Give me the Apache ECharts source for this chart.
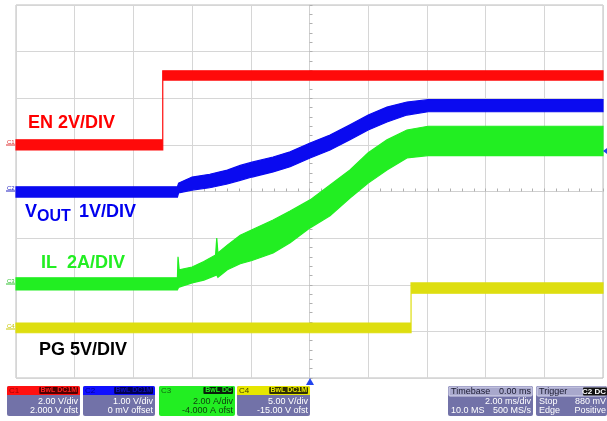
<!DOCTYPE html>
<html>
<head>
<meta charset="utf-8">
<script src="https://cdn.jsdelivr.net/npm/echarts@6/dist/echarts.min.js"></script>
<style>
html,body{margin:0;padding:0;background:#fff;}
#c{width:607px;height:421px;}
</style>
</head>
<body>
<div id="c"></div>
<script>
// ---- data (time in divisions 0..10, level in divisions 0..8) ----
// EN (C1) envelope
const enT  = [0, 2.5, 2.5, 10];
const enLo = [4.89, 4.89, 6.39, 6.39];
const enHi = [5.11, 5.11, 6.59, 6.59];
// VOUT (C2) envelope
const voT  = [0, 2.75, 2.77, 3.0, 3.3, 3.6, 3.82, 4.02, 4.38, 4.67, 5.01, 5.35, 5.69, 6.0, 6.32, 6.66, 7.02, 7.22, 10];
const voLo = [3.88, 3.88, 3.97, 4.03, 4.08, 4.16, 4.24, 4.31, 4.42, 4.53, 4.72, 4.89, 5.11, 5.32, 5.49, 5.64, 5.71, 5.71, 5.71];
const voHi = [4.10, 4.10, 4.18, 4.31, 4.37, 4.46, 4.56, 4.63, 4.74, 4.85, 5.04, 5.21, 5.43, 5.64, 5.81, 5.92, 5.97, 5.97, 5.97];
// IL (C3) envelope
const ilT  = [0, 2.75, 2.76, 2.78, 3.0, 3.2, 3.40, 3.42, 3.44, 3.6, 3.82, 4.02, 4.38, 4.67, 5.01, 5.35, 5.69, 6.0, 6.32, 6.66, 7.02, 10];
const ilLo = [1.89, 1.89, 1.92, 1.95, 2.04, 2.10, 2.20, 2.21, 2.16, 2.32, 2.45, 2.52, 2.68, 2.90, 3.22, 3.48, 3.86, 4.18, 4.46, 4.72, 4.77, 4.77];
const ilHi = [2.15, 2.15, 2.60, 2.32, 2.38, 2.50, 2.64, 3.00, 2.68, 2.85, 3.06, 3.18, 3.39, 3.58, 3.82, 4.14, 4.46, 4.83, 5.11, 5.32, 5.40, 5.40];
// PG (C4) envelope
const pgT  = [0, 6.73, 6.73, 10];
const pgLo = [0.97, 0.97, 1.82, 1.82];
const pgHi = [1.18, 1.18, 2.04, 2.04];

const traceLabels = ['EN 2V/DIV', 'V', 'OUT', ' 1V/DIV', 'IL  2A/DIV', 'PG 5V/DIV'];
const chLines1 = ['2.00 V/div', '1.00 V/div', '2.00 A/div', '5.00 V/div'];
const chLines2 = ['2.000 V ofst', '0 mV offset', '-4.000 A ofst', '-15.00 V ofst'];
const tbLines = ['Timebase', '0.00 ms', '2.00 ms/div', '10.0 MS', '500 MS/s'];
const trLines = ['Trigger', 'C2 DC', 'Stop', '880 mV', 'Edge', 'Positive'];

const FONT = '"Liberation Sans", Arial, sans-serif';
const chart = echarts.init(document.getElementById('c'), null, {renderer: 'canvas'});

function band(name, t, lo, hi, color) {
  return {
    type: 'custom', name: name, xAxisIndex: 0, yAxisIndex: 0, silent: true, z: 5,
    data: t.map((v, i) => [v, hi[i]]),
    renderItem: function (params, api) {
      if (params.dataIndex !== 0) return null;
      const pts = [];
      for (let i = 0; i < t.length; i++) pts.push(api.coord([t[i], hi[i]]));
      for (let i = t.length - 1; i >= 0; i--) pts.push(api.coord([t[i], lo[i]]));
      return {type: 'polygon', shape: {points: pts},
        style: {fill: color, stroke: color, lineWidth: 1.2}};
    }
  };
}

const g = [];
function txt(x, y, s, font, fill, align) {
  g.push({type: 'text', x: x, y: y, z: 20, silent: true,
    style: {text: s, font: font, fill: fill, align: align || 'left', verticalAlign: 'middle'}});
}
function rect(x, y, w, h, fill, r, stroke) {
  g.push({type: 'rect', z: 15, silent: true, shape: {x: x, y: y, width: w, height: h, r: r || 0},
    style: {fill: fill, stroke: stroke || null, lineWidth: 1}});
}

// trace labels
txt(28, 123, traceLabels[0], 'bold 18px ' + FONT, '#ff0000');
txt(25, 212, traceLabels[1], 'bold 18px ' + FONT, '#0000ee');
txt(37, 217, traceLabels[2], 'bold 16px ' + FONT, '#0000ee');
txt(74, 212, traceLabels[3], 'bold 18px ' + FONT, '#0000ee');
txt(41, 263, traceLabels[4], 'bold 18px ' + FONT, '#22ee22');
txt(39, 350, traceLabels[5], 'bold 18px ' + FONT, '#000000');

// channel ground markers
const mk = [['C1', 142, '#e03030'], ['C2', 188, '#2020c0'], ['C3', 281, '#30c030'], ['C4', 326, '#c8c800']];
mk.forEach(m => {
  txt(7, m[1], m[0], '6px ' + FONT, m[2]);
  g.push({type: 'line', z: 20, silent: true, shape: {x1: 6, y1: m[1] + 3, x2: 15, y2: m[1] + 3}, style: {stroke: m[2], lineWidth: 1}});
});

// trigger markers
g.push({type: 'polygon', z: 20, silent: true, shape: {points: [[306, 385], [314, 385], [310, 378]]}, style: {fill: '#2244ee'}});
g.push({type: 'polygon', z: 20, silent: true, shape: {points: [[607, 148], [607, 154], [603, 151]]}, style: {fill: '#2244ee'}});

// channel boxes
const BODY = '#7272a8';
const boxes = [
  {x: 7, w: 73, head: '#ff1010', id: 'C1', idc: '#a00000', tag: 'BwL DC1M', tagBg: '#500000', tagC: '#ff2020', body: BODY, tc: '#ffffff'},
  {x: 83, w: 72, head: '#1010ff', id: 'C2', idc: '#000090', tag: 'BwL DC1M', tagBg: '#000050', tagC: '#1010c0', body: BODY, tc: '#ffffff'},
  {x: 159, w: 76, head: '#22ee22', id: 'C3', idc: '#116611', tag: 'BwL DC', tagBg: '#0a200a', tagC: '#22ee22', body: '#22ee22', tc: '#104010'},
  {x: 237, w: 73, head: '#e6e600', id: 'C4', idc: '#404000', tag: 'BwL DC1M', tagBg: '#303000', tagC: '#e6e600', body: BODY, tc: '#ffffff'}
];
boxes.forEach((b, i) => {
  rect(b.x, 386, b.w, 30, b.body, 2);
  rect(b.x, 386, b.w, 9, b.head, [2, 2, 0, 0]);
  txt(b.x + 2, 390.5, b.id, '8px ' + FONT, b.idc);
  const tw = b.tag.length * 4.6 + 2;
  rect(b.x + b.w - tw - 2, 387, tw, 7, b.tagBg, 1);
  txt(b.x + b.w - 3, 390.5, b.tag, 'bold 7px ' + FONT, b.tagC, 'right');
  txt(b.x + b.w - 2, 402, chLines1[i], '9px ' + FONT, b.tc, 'right');
  txt(b.x + b.w - 2, 411, chLines2[i], '9px ' + FONT, b.tc, 'right');
});

// timebase box
rect(448, 386, 85, 30, BODY, 2);
rect(449, 387, 83, 9, '#a8a8cc', 1, '#d8d8ee');
txt(451, 391.5, tbLines[0], '9px ' + FONT, '#1a1a30');
txt(531, 391.5, tbLines[1], '9px ' + FONT, '#1a1a30', 'right');
txt(531, 402, tbLines[2], '9px ' + FONT, '#ffffff', 'right');
txt(451, 411, tbLines[3], '9px ' + FONT, '#ffffff');
txt(531, 411, tbLines[4], '9px ' + FONT, '#ffffff', 'right');

// trigger box
rect(536, 386, 71, 30, BODY, 2);
rect(537, 387, 69, 9, '#a8a8cc', 1, '#d8d8ee');
txt(539, 391.5, trLines[0], '9px ' + FONT, '#1a1a30');
rect(583, 387.5, 24, 8, '#101010', 1);
txt(606, 391.5, trLines[1], 'bold 8px ' + FONT, '#ffffff', 'right');
txt(539, 402, trLines[2], '9px ' + FONT, '#ffffff');
txt(606, 402, trLines[3], '9px ' + FONT, '#ffffff', 'right');
txt(539, 411, trLines[4], '9px ' + FONT, '#ffffff');
txt(606, 411, trLines[5], '9px ' + FONT, '#ffffff', 'right');

const hide = {show: false};
chart.setOption({
  animation: false,
  backgroundColor: '#ffffff',
  grid: {left: 16, right: 4, top: 5, bottom: 43, show: true, borderColor: '#bdbdbd', borderWidth: 1, backgroundColor: 'transparent'},
  xAxis: [
    {type: 'value', min: 0, max: 10, interval: 1, axisLabel: hide, axisTick: hide, axisLine: hide,
     splitLine: {show: true, lineStyle: {color: '#d6d6d6', width: 1}}},
    {type: 'value', min: -5, max: 5, interval: 1, axisLabel: hide,
     axisTick: {show: true, length: 3, lineStyle: {color: '#b0b0b0'}},
     axisLine: {show: true, onZero: true, onZeroAxisIndex: 1, lineStyle: {color: '#d0d0d0'}},
     minorTick: {show: true, splitNumber: 5, length: 3, lineStyle: {color: '#b0b0b0'}},
     splitLine: hide}
  ],
  yAxis: [
    {type: 'value', min: 0, max: 8, interval: 1, axisLabel: hide, axisTick: hide, axisLine: hide,
     splitLine: {show: true, lineStyle: {color: '#d6d6d6', width: 1}}},
    {type: 'value', min: -4, max: 4, interval: 1, axisLabel: hide,
     axisTick: {show: true, length: 3, lineStyle: {color: '#b0b0b0'}},
     axisLine: {show: true, onZero: true, onZeroAxisIndex: 1, lineStyle: {color: '#d0d0d0'}},
     minorTick: {show: true, splitNumber: 5, length: 3, lineStyle: {color: '#b0b0b0'}},
     splitLine: hide}
  ],
  series: [
    band('PG', pgT, pgLo, pgHi, '#dede10'),
    band('IL', ilT, ilLo, ilHi, '#22ee22'),
    band('VOUT', voT, voLo, voHi, '#0a0af0'),
    band('EN', enT, enLo, enHi, '#ff0a0a')
  ],
  graphic: g
});
</script>
</body>
</html>
